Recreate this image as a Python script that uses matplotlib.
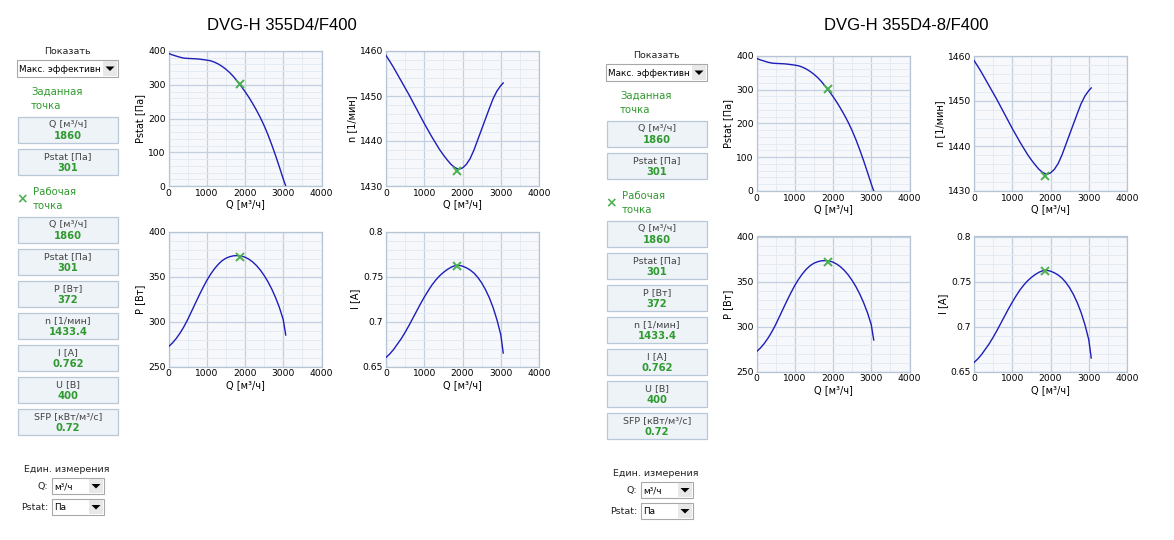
import matplotlib

matplotlib.use("Agg")
import matplotlib.pyplot as plt
from matplotlib.patches import Rectangle, Polygon
from matplotlib.ticker import AutoMinorLocator

W, H = 1174, 540

titles = ["DVG-H 355D4/F400", "DVG-H 355D4-8/F400"]

q_pts = [0, 100, 200, 300, 400, 500, 600, 700, 800, 900, 1000, 1100, 1200, 1300, 1400, 1500,
         1600, 1700, 1800, 1900, 2000, 2100, 2200, 2300, 2400, 2500, 2600, 2700, 2800, 2900,
         3000, 3065]
pstat_pts = [393, 388.5, 385, 381.5, 379, 378, 377.5, 377, 376, 374.5, 373, 371, 367, 361.5,
             354.5, 346, 336, 324, 310, 295.5, 280, 263, 244.5, 224.5, 203, 179, 152, 122, 90,
             56, 21, 0]
n_pts = [1459, 1457.7, 1456.3, 1454.8, 1453.3, 1451.8, 1450.3, 1448.7, 1447.1, 1445.5, 1443.9,
         1442.4, 1440.9, 1439.5, 1438.1, 1436.9, 1435.8, 1434.8, 1434.1, 1433.7, 1434, 1434.8,
         1436.1, 1438, 1440.3, 1442.6, 1444.9, 1447.2, 1449.4, 1451.1, 1452.3, 1452.9]
p_pts = [272, 276, 281, 287, 294, 302, 311, 320, 329, 337.5, 345.5, 352.5, 358.5, 363.5, 367.5,
         370.3, 372, 373, 373.2, 372.8, 371.5, 369.3, 366.2, 362.2, 357.2, 351.2, 344.2, 336,
         326.5, 315.5, 302, 285]
i_pts = [0.660, 0.664, 0.669, 0.675, 0.681, 0.688, 0.6955, 0.7035, 0.7115, 0.7195, 0.727,
         0.734, 0.7405, 0.746, 0.7507, 0.7545, 0.7577, 0.7603, 0.762, 0.7625, 0.7615, 0.7597,
         0.7572, 0.7538, 0.749, 0.743, 0.7355, 0.7265, 0.7155, 0.702, 0.6855, 0.665]

q_op = 1860
pstat_op = 301
n_op = 1433.4
p_op = 372
i_op = 0.762

set_labels = ["Q [м³/ч]", "Pstat [Па]"]
set_values = ["1860", "301"]
work_labels = ["Q [м³/ч]", "Pstat [Па]", "P [Вт]", "n [1/мин]", "I [A]", "U [B]", "SFP [кВт/м³/с]"]
work_values = ["1860", "301", "372", "1433.4", "0.762", "400", "0.72"]

x_ticks = [0, 1000, 2000, 3000, 4000]
pstat_ticks = [0, 100, 200, 300, 400]
n_ticks = [1430, 1440, 1450, 1460]
p_ticks = [250, 300, 350, 400]
i_ticks = [0.65, 0.7, 0.75, 0.8]
i_tick_labels = ["0.65", "0.7", "0.75", "0.8"]

LINE = "#1e1eb8"
MARK = "#4cb050"
GREEN = "#2f9a2f"
BOX_FACE = "#eef3f8"
BOX_EDGE = "#b9c8d8"
TXT = "#222222"

plt.rcParams["font.family"] = ["DejaVu Sans"]

fig = plt.figure(figsize=(W / 100, H / 100), dpi=100)
ov = fig.add_axes([0, 0, 1, 1])
ov.set_xlim(0, W)
ov.set_ylim(H, 0)
ov.axis("off")


def dropdown(x, y, w, h, text):
    ov.add_patch(Rectangle((x, y), w, h, facecolor="white", edgecolor="#a8a8a8", linewidth=0.8))
    ov.text(x + 2, y + h / 2 + 0.5, text, fontsize=6.4, ha="left", va="center", color="black")
    bw = 15
    ov.add_patch(Rectangle((x + w - bw, y + 1), bw - 1, h - 2, facecolor="#e8e8e8",
                           edgecolor="none", zorder=3))
    cx, cy = x + w - bw / 2 - 0.5, y + h / 2
    ov.add_patch(Polygon([(cx - 4.5, cy - 2), (cx + 4.5, cy - 2), (cx, cy + 2.5)],
                         closed=True, facecolor="black", edgecolor="none", zorder=4))


def value_box(x, y, label, value):
    ov.add_patch(Rectangle((x, y), 100, 26, facecolor=BOX_FACE, edgecolor=BOX_EDGE, linewidth=0.9))
    ov.text(x + 50, y + 7.5, label, fontsize=6.8, ha="center", va="center", color="#444444")
    ov.text(x + 50, y + 19, value, fontsize=7.2, ha="center", va="center", color=GREEN,
            weight="bold")


def sidebar(dx, dy):
    ov.text(67 + dx, 52 + dy, "Показать", fontsize=6.8, ha="center", va="center", color=TXT)
    dropdown(17 + dx, 60 + dy, 101, 17, "Макс. эффективн")
    ov.text(31 + dx, 92 + dy, "Заданная", fontsize=7.3, ha="left", va="center", color=GREEN)
    ov.text(31 + dx, 106 + dy, "точка", fontsize=7.3, ha="left", va="center", color=GREEN)
    for k, (lab, val) in enumerate(zip(set_labels, set_values)):
        value_box(18 + dx, 117 + dy + 32 * k, lab, val)
    ov.text(22 + dx, 199 + dy, "×", fontsize=10, ha="center", va="center", color=MARK,
            weight="bold")
    ov.text(33 + dx, 192 + dy, "Рабочая", fontsize=7.3, ha="left", va="center", color=GREEN)
    ov.text(33 + dx, 206 + dy, "точка", fontsize=7.3, ha="left", va="center", color=GREEN)
    for k, (lab, val) in enumerate(zip(work_labels, work_values)):
        value_box(18 + dx, 217 + dy + 32 * k, lab, val)
    ov.text(67 + dx, 469 + dy, "Един. измерения", fontsize=6.8, ha="center", va="center",
            color=TXT)
    ov.text(48 + dx, 486 + dy, "Q:", fontsize=6.8, ha="right", va="center", color=TXT)
    dropdown(52 + dx, 478 + dy, 52, 16, "м³/ч")
    ov.text(48 + dx, 507 + dy, "Pstat:", fontsize=6.8, ha="right", va="center", color=TXT)
    dropdown(52 + dx, 499 + dy, 52, 16, "Па")


def chart(x0, y0, yvals, op_y, yticks, ylim, ylabel, ytick_labels=None):
    ax = fig.add_axes([x0 / W, 1 - (y0 + 135) / H, 153 / W, 135 / H])
    ax.set_facecolor("#f6f8fb")
    ax.plot(q_pts, yvals, color=LINE, linewidth=1.0, zorder=3)
    ax.plot([q_op], [op_y], marker="x", color=MARK, markersize=6, mew=1.4, zorder=4)
    ax.set_xlim(0, 4000)
    ax.set_ylim(*ylim)
    ax.set_xticks(x_ticks)
    ax.set_yticks(yticks)
    if ytick_labels is not None:
        ax.set_yticklabels(ytick_labels)
    ax.xaxis.set_minor_locator(AutoMinorLocator(2))
    ax.yaxis.set_minor_locator(AutoMinorLocator(5))
    ax.grid(True, which="major", color="#c3d0df", linewidth=0.9)
    ax.grid(True, which="minor", color="#e5ebf2", linewidth=0.7)
    ax.set_axisbelow(True)
    for s in ax.spines.values():
        s.set_color("#b6c5d6")
        s.set_linewidth(0.9)
    ax.tick_params(which="both", length=0, labelsize=6.6, colors="black", pad=2)
    ax.set_xlabel("Q [м³/ч]", fontsize=7, labelpad=1)
    ax.set_ylabel(ylabel, fontsize=7, labelpad=2)
    return ax


def group(dx, dy, title_x, title):
    ov.text(title_x, 26, title, fontsize=12, ha="center", va="center", color="black",
            family="Liberation Sans")
    chart(168.5 + dx, 51 + dy, pstat_pts, pstat_op, pstat_ticks, (0, 400), "Pstat [Па]")
    chart(386 + dx, 51 + dy, n_pts, n_op, n_ticks, (1430, 1460), "n [1/мин]")
    chart(168.5 + dx, 231.5 + dy, p_pts, p_op, p_ticks, (250, 400), "P [Вт]")
    chart(386 + dx, 231.5 + dy, i_pts, i_op, i_ticks, (0.65, 0.8), "I [A]", i_tick_labels)


sidebar(0, 0)
group(0, 0, 282, titles[0])
sidebar(589, 4)
group(588, 5, 906, titles[1])

fig.savefig("out.png", dpi=100)
